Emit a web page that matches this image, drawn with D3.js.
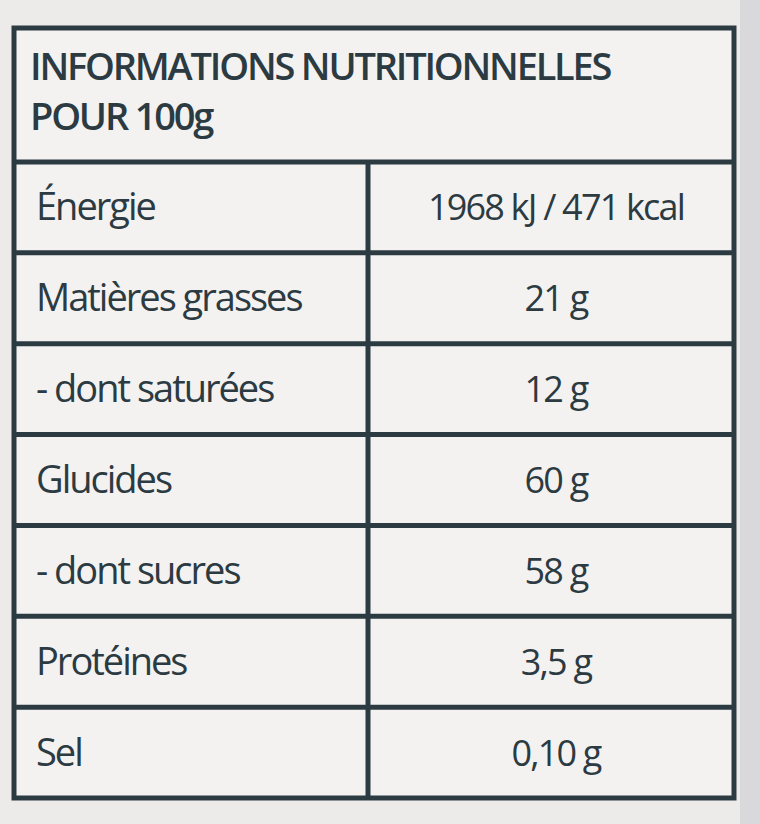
<!DOCTYPE html>
<html><head><meta charset="utf-8">
<script src="https://cdn.jsdelivr.net/npm/d3@7"></script>
<style>body{margin:0;background:#e9e7e6;}</style></head>
<body><svg id="c" width="760" height="824"></svg>
<script>
const titleLines = ["INFORMATIONS NUTRITIONNELLES", "POUR 100g"];
const nutrients = ["Énergie", "Matières grasses", "- dont saturées", "Glucides", "- dont sucres", "Protéines", "Sel"];
const amounts = ["1968 kJ / 471 kcal", "21 g", "12 g", "60 g", "58 g", "3,5 g", "0,10 g"];

(function(){
const svg = d3.select("#c");
const ink = "#2c3a42";
const xL = 14, xR = 734, yT = 28, headBottom = 162, yB = 798, colX = 368;
svg.append("rect").attr("width",760).attr("height",824).attr("fill","#ecebea");
svg.append("rect").attr("x",740).attr("y",0).attr("width",20).attr("height",824).attr("fill","#d9d8da");
svg.append("rect").attr("x",xL).attr("y",yT).attr("width",xR-xL).attr("height",yB-yT)
  .attr("fill","#f3f2f1").attr("stroke",ink).attr("stroke-width",5);

const y = d3.scaleBand().domain(nutrients).range([headBottom, yB]);

svg.selectAll("text.t").data(titleLines).join("text")
  .attr("x",30).attr("y",(d,i)=>80+i*50)
  .attr("font-family","Open Sans, sans-serif").attr("font-weight",600)
  .attr("font-size",38).attr("fill",ink).attr("letter-spacing",-2.2).text(d=>d);

svg.selectAll("line.h").data(nutrients).join("line")
  .attr("x1",xL).attr("x2",xR).attr("y1",d=>y(d)).attr("y2",d=>y(d))
  .attr("stroke",ink).attr("stroke-width",5);
svg.append("line").attr("x1",colX).attr("x2",colX).attr("y1",headBottom).attr("y2",yB)
  .attr("stroke",ink).attr("stroke-width",5);

svg.selectAll("text.n").data(nutrients).join("text")
  .attr("x",36).attr("y",d=>y(d)+y.bandwidth()/2+13)
  .attr("font-family","Open Sans, sans-serif").attr("font-size",38).attr("fill",ink)
  .attr("letter-spacing",-2).text(d=>d);
svg.selectAll("text.v").data(amounts).join("text")
  .attr("x",(colX+xR)/2+5).attr("y",(d,i)=>y(nutrients[i])+y.bandwidth()/2+13)
  .attr("text-anchor","middle")
  .attr("font-family","Open Sans, sans-serif").attr("font-size",36).attr("fill",ink)
  .attr("letter-spacing",-1.8).text(d=>d);
})();
</script></body></html>
